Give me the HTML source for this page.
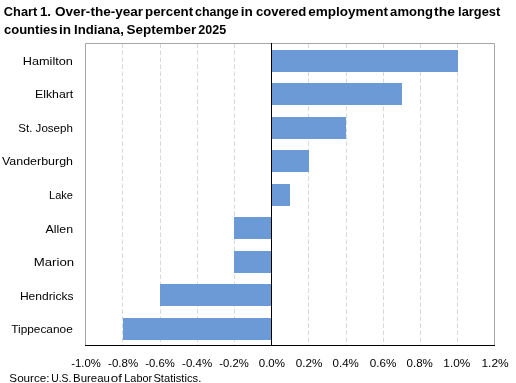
<!DOCTYPE html>
<html><head><meta charset="utf-8"><style>
html,body{margin:0;padding:0;background:#fff;}
svg{display:block;}
text{font-family:"Liberation Sans",sans-serif;fill:#000;}
.ttl{font-weight:bold;font-size:12.5px;}
.lab{font-size:10.5px;}
.src{font-size:10.5px;}
.tx{will-change:transform;}
</style></head><body>
<svg width="516" height="383" viewBox="0 0 516 383">
<rect width="516" height="383" fill="#fff"/>
<line x1="122.5" y1="43.4" x2="122.5" y2="345" stroke="#d9d9d9" stroke-width="1" stroke-dasharray="4.6 2.4"/>
<line x1="160.5" y1="43.4" x2="160.5" y2="345" stroke="#d9d9d9" stroke-width="1" stroke-dasharray="4.6 2.4"/>
<line x1="197.5" y1="43.4" x2="197.5" y2="345" stroke="#d9d9d9" stroke-width="1" stroke-dasharray="4.6 2.4"/>
<line x1="234.5" y1="43.4" x2="234.5" y2="345" stroke="#d9d9d9" stroke-width="1" stroke-dasharray="4.6 2.4"/>
<line x1="308.5" y1="43.4" x2="308.5" y2="345" stroke="#d9d9d9" stroke-width="1" stroke-dasharray="4.6 2.4"/>
<line x1="346.5" y1="43.4" x2="346.5" y2="345" stroke="#d9d9d9" stroke-width="1" stroke-dasharray="4.6 2.4"/>
<line x1="383.5" y1="43.4" x2="383.5" y2="345" stroke="#d9d9d9" stroke-width="1" stroke-dasharray="4.6 2.4"/>
<line x1="420.5" y1="43.4" x2="420.5" y2="345" stroke="#d9d9d9" stroke-width="1" stroke-dasharray="4.6 2.4"/>
<line x1="457.5" y1="43.4" x2="457.5" y2="345" stroke="#d9d9d9" stroke-width="1" stroke-dasharray="4.6 2.4"/>
<path d="M85.5,345 V43.5 H494.5 V345" fill="none" stroke="#a6a6a6" stroke-width="1"/>
<rect x="272.00" y="50.00" width="186.00" height="22" fill="#6b9ad6"/>
<rect x="272.00" y="83.00" width="130.00" height="22" fill="#6b9ad6"/>
<rect x="272.00" y="117.00" width="74.00" height="22" fill="#6b9ad6"/>
<rect x="272.00" y="150.00" width="37.00" height="22" fill="#6b9ad6"/>
<rect x="272.00" y="184.00" width="18.00" height="22" fill="#6b9ad6"/>
<rect x="234.00" y="217.00" width="37.00" height="22" fill="#6b9ad6"/>
<rect x="234.00" y="251.00" width="37.00" height="22" fill="#6b9ad6"/>
<rect x="160.00" y="284.00" width="111.00" height="22" fill="#6b9ad6"/>
<rect x="123.00" y="318.00" width="148.00" height="22" fill="#6b9ad6"/>
<line x1="85" y1="345.5" x2="495" y2="345.5" stroke="#000" stroke-width="1"/>
<line x1="271.5" y1="43" x2="271.5" y2="345" stroke="#000" stroke-width="1"/>
<g class="tx">
<text x="3.89" y="16" class="ttl" textLength="33.42" lengthAdjust="spacingAndGlyphs">Chart</text>
<text x="39.91" y="16" class="ttl" textLength="11.16" lengthAdjust="spacingAndGlyphs">1.</text>
<text x="54.96" y="16" class="ttl" textLength="88.19" lengthAdjust="spacingAndGlyphs">Over-the-year</text>
<text x="145.08" y="16" class="ttl" textLength="48.08" lengthAdjust="spacingAndGlyphs">percent</text>
<text x="195.00" y="16" class="ttl" textLength="43.69" lengthAdjust="spacingAndGlyphs">change</text>
<text x="240.84" y="16" class="ttl" textLength="12.06" lengthAdjust="spacingAndGlyphs">in</text>
<text x="255.93" y="16" class="ttl" textLength="50.31" lengthAdjust="spacingAndGlyphs">covered</text>
<text x="308.19" y="16" class="ttl" textLength="79.73" lengthAdjust="spacingAndGlyphs">employment</text>
<text x="390.14" y="16" class="ttl" textLength="42.80" lengthAdjust="spacingAndGlyphs">among</text>
<text x="434.09" y="16" class="ttl" textLength="20.84" lengthAdjust="spacingAndGlyphs">the</text>
<text x="458.11" y="16" class="ttl" textLength="42.15" lengthAdjust="spacingAndGlyphs">largest</text>
<text x="3.92" y="34.3" class="ttl" textLength="53.71" lengthAdjust="spacingAndGlyphs">counties</text>
<text x="59.07" y="34.3" class="ttl" textLength="12.06" lengthAdjust="spacingAndGlyphs">in</text>
<text x="74.02" y="34.3" class="ttl" textLength="49.79" lengthAdjust="spacingAndGlyphs">Indiana,</text>
<text x="126.47" y="34.3" class="ttl" textLength="69.81" lengthAdjust="spacingAndGlyphs">September</text>
<text x="198.25" y="34.3" class="ttl" textLength="27.92" lengthAdjust="spacingAndGlyphs">2025</text>
<text x="22.76" y="64.5" class="lab" textLength="50.13" lengthAdjust="spacingAndGlyphs">Hamilton</text>
<text x="34.94" y="98" class="lab" textLength="38.31" lengthAdjust="spacingAndGlyphs">Elkhart</text>
<text x="18.28" y="132" class="lab" textLength="54.61" lengthAdjust="spacingAndGlyphs">St. Joseph</text>
<text x="2.01" y="164.9" class="lab" textLength="71.00" lengthAdjust="spacingAndGlyphs">Vanderburgh</text>
<text x="49.05" y="199" class="lab" textLength="23.92" lengthAdjust="spacingAndGlyphs">Lake</text>
<text x="45.62" y="233" class="lab" textLength="27.48" lengthAdjust="spacingAndGlyphs">Allen</text>
<text x="33.79" y="266" class="lab" textLength="40.32" lengthAdjust="spacingAndGlyphs">Marion</text>
<text x="19.92" y="300" class="lab" textLength="53.55" lengthAdjust="spacingAndGlyphs">Hendricks</text>
<text x="11.25" y="333" class="lab" textLength="61.48" lengthAdjust="spacingAndGlyphs">Tippecanoe</text>
<text x="71.33" y="367" class="lab" textLength="29.49" lengthAdjust="spacingAndGlyphs">-1.0%</text>
<text x="108.05" y="367" class="lab" textLength="30.10" lengthAdjust="spacingAndGlyphs">-0.8%</text>
<text x="145.33" y="367" class="lab" textLength="29.49" lengthAdjust="spacingAndGlyphs">-0.6%</text>
<text x="182.05" y="367" class="lab" textLength="30.10" lengthAdjust="spacingAndGlyphs">-0.4%</text>
<text x="219.33" y="367" class="lab" textLength="29.49" lengthAdjust="spacingAndGlyphs">-0.2%</text>
<text x="258.76" y="367" class="lab" textLength="26.25" lengthAdjust="spacingAndGlyphs">0.0%</text>
<text x="295.70" y="367" class="lab" textLength="26.65" lengthAdjust="spacingAndGlyphs">0.2%</text>
<text x="332.54" y="367" class="lab" textLength="26.32" lengthAdjust="spacingAndGlyphs">0.4%</text>
<text x="369.70" y="367" class="lab" textLength="26.65" lengthAdjust="spacingAndGlyphs">0.6%</text>
<text x="406.54" y="367" class="lab" textLength="26.32" lengthAdjust="spacingAndGlyphs">0.8%</text>
<text x="443.39" y="367" class="lab" textLength="26.98" lengthAdjust="spacingAndGlyphs">1.0%</text>
<text x="481.48" y="367" class="lab" textLength="27.22" lengthAdjust="spacingAndGlyphs">1.2%</text>
<text x="9.35" y="381.7" class="src" textLength="40.22" lengthAdjust="spacingAndGlyphs">Source:</text>
<text x="51.19" y="381.7" class="src" textLength="20.10" lengthAdjust="spacingAndGlyphs">U.S.</text>
<text x="73.08" y="381.7" class="src" textLength="36.77" lengthAdjust="spacingAndGlyphs">Bureau</text>
<text x="110.85" y="381.7" class="src" textLength="11.20" lengthAdjust="spacingAndGlyphs">of</text>
<text x="124.34" y="381.7" class="src" textLength="27.73" lengthAdjust="spacingAndGlyphs">Labor</text>
<text x="153.42" y="381.7" class="src" textLength="47.84" lengthAdjust="spacingAndGlyphs">Statistics.</text>
</g>
</svg>
</body></html>
